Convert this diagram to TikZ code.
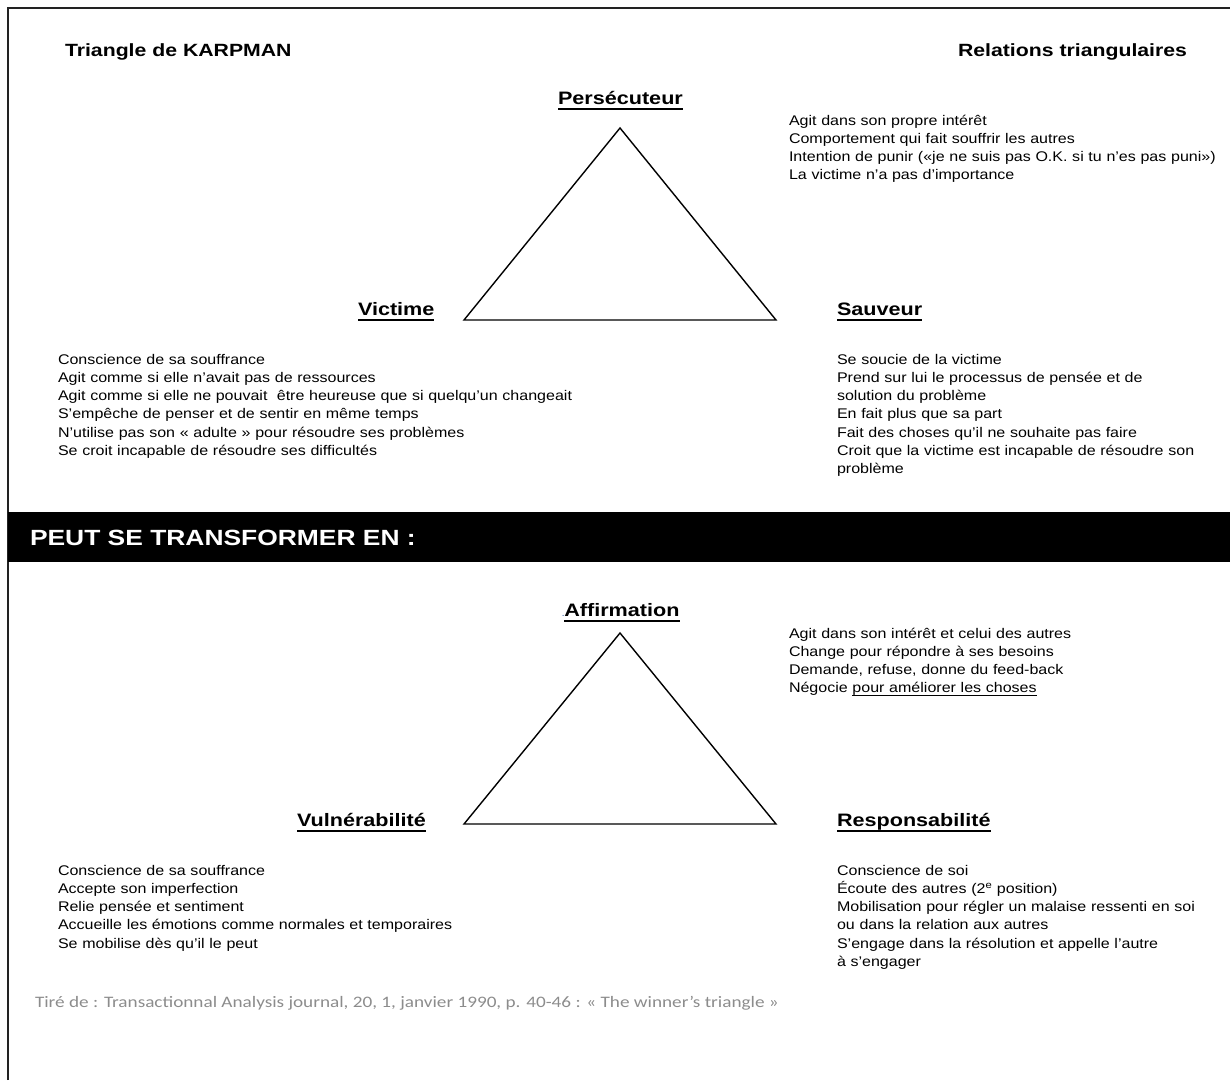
\documentclass[tikz,border=0pt]{standalone}
\usepackage{fontspec}
\setmainfont{Liberation Sans}[FakeStretch=1.2]
\newfontfamily\bodyfont{Liberation Sans}[FakeStretch=1.145]
\newfontfamily\notefont{Carlito}[FakeStretch=1.2]
\usepackage{xcolor}
\usepackage{tikz}

\definecolor{notegray}{HTML}{8C8C8C}
\definecolor{dotblue}{HTML}{5B7FB5}
\definecolor{framegray}{HTML}{222222}

% underline at a fixed depth, as in a word processor
\newcommand{\ulword}[1]{\setbox0\hbox{#1}\rlap{\rule[-0.34em]{\wd0}{0.13em}}\box0}
\newcommand{\ulthin}[1]{\setbox0\hbox{#1}\rlap{\rule[-0.25em]{\wd0}{0.08em}}\box0}

\tikzset{
    every node/.style={inner sep=0pt, outer sep=0pt},
    head/.style={font=\fontsize{17.7}{20}\selectfont\bfseries},
    vertex/.style={font=\fontsize{18}{20}\selectfont\bfseries, anchor=base west},
    body/.style={font=\bodyfont\fontsize{14}{18.25}\selectfont, anchor=base west, align=left, text width=#1},
    body/.default=440pt,
    bandtext/.style={font=\fontsize{22}{24}\selectfont\bfseries, text=white, anchor=base west},
    note/.style={font=\notefont\fontsize{16}{18}\selectfont, text=notegray, anchor=base west},
    tri/.style={line width=1.4pt, line join=miter},
}

\begin{document}
\begin{tikzpicture}[x=1pt, y=-1pt]
        \useasboundingbox (0,0) rectangle (1230,1080);

        % frame
        \coordinate (fbottom) at (8,1080);
        \coordinate (fcorner) at (8,8);
        \coordinate (fright) at (1230,8);
        \draw[framegray, line width=1.8pt] (fbottom) -- (fcorner) -- (fright);

        \node[head, anchor=base west] (title) at (65,56) {Triangle de KARPMAN};
        \node[head, anchor=base east] (relations) at (1187,56) {Relations triangulaires};

        % Karpman triangle
        \coordinate (ktop) at (620,128);
        \coordinate (kleft) at (464,320);
        \coordinate (kright) at (776,320);
        \draw[tri] (ktop) -- (kleft) -- (kright) -- cycle;

        \node[vertex] (persecuteur) at (558,104) {\ulword{Persécuteur}};
        \node[vertex] (victime) at (358,315) {\ulword{Victime}};
        \node[vertex] (sauveur) at (837,315) {\ulword{Sauveur}};

        \node[body] (persdesc) at (789,125) {Agit dans son propre intérêt\\
            Comportement qui fait souffrir les autres\\
            Intention de punir («je ne suis pas O.K. si tu n’es pas puni»)\\
            La victime n’a pas d’importance};
        \node[body=560pt] (victdesc) at (58,364) {Conscience de sa souffrance\\
            Agit comme si elle n’avait pas de ressources\\
            Agit comme si elle ne pouvait~ être heureuse que si quelqu’un changeait\\
            S’empêche de penser et de sentir en même temps\\
            N’utilise pas son « adulte » pour résoudre ses problèmes\\
            Se croit incapable de résoudre ses difficultés};
        \node[body=380pt] (sauvdesc) at (837,364) {Se soucie de la victime\\
            Prend sur lui le processus de pensée et de\\
            solution du problème\\
            En fait plus que sa part\\
            Fait des choses qu’il ne souhaite pas faire\\
            Croit que la victime est incapable de résoudre son\\
            problème};

        % black band
        \fill[black] (8,512) rectangle (1230,562);
        \node[bandtext] (transform) at (30,545) {PEUT SE TRANSFORMER EN :};

        % winner's triangle
        \coordinate (wtop) at (620,633);
        \coordinate (wleft) at (464,824);
        \coordinate (wright) at (776,824);
        \draw[tri] (wtop) -- (wleft) -- (wright) -- cycle;

        \node[vertex] (affirmation) at (562,616) {{\color{dotblue}\fontsize{7}{8}\selectfont.}\ulword{Affirmation}};
        \node[vertex] (vulnerabilite) at (297,826) {\ulword{Vulnérabilité}};
        \node[vertex] (responsabilite) at (837,826) {\ulword{Responsabilité}};

        \node[body] (affdesc) at (789,638) {Agit dans son intérêt et celui des autres\\
            Change pour répondre à ses besoins\\
            Demande, refuse, donne du feed-back\\
            Négocie \ulthin{pour améliorer les choses}};
        \node[body=560pt] (vulndesc) at (58,875) {Conscience de sa souffrance\\
            Accepte son imperfection\\
            Relie pensée et sentiment\\
            Accueille les émotions comme normales et temporaires\\
            Se mobilise dès qu’il le peut};
        \node[body=380pt] (respdesc) at (837,875) {Conscience de soi\\
            Écoute des autres (2\textsuperscript{e} position)\\
            Mobilisation pour régler un malaise ressenti en soi\\
            ou dans la relation aux autres\\
            S’engage dans la résolution et appelle l’autre\\
            à s’engager};

        \node[note] (source) at (35,1007) {Tiré de : Transactionnal Analysis journal, 20, 1, janvier 1990, p. 40-46 : « The winner’s triangle »};
    \end{tikzpicture}
\end{document}
